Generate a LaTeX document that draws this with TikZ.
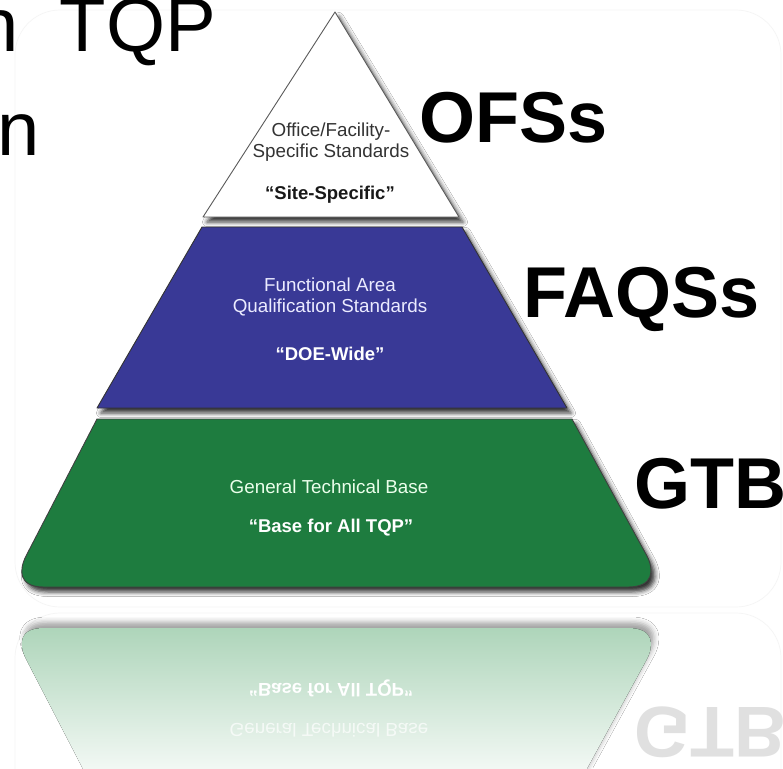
\documentclass[tikz,border=0pt]{standalone}
\usepackage{fontspec}
\setmainfont{Liberation Sans}
\usetikzlibrary{shadows.blur}
\definecolor{pyrblue}{RGB}{57,57,150}
\definecolor{pyrgreen}{RGB}{30,124,63}
\definecolor{refgreen}{RGB}{174,213,186}
\definecolor{edgegray}{RGB}{90,90,90}
\tikzset{
  lvl/.style={line width=0.9pt, line join=round,
    blur shadow={shadow xshift=4pt, shadow yshift=-5pt, shadow blur radius=4.5pt, shadow opacity=80}},
  smalltxt/.style={font=\fontsize{18.8}{22}\selectfont, inner sep=0pt},
  smallbold/.style={font=\fontsize{18.5}{22}\selectfont\bfseries, inner sep=0pt},
  biglabel/.style={font=\fontsize{72}{72}\selectfont\bfseries, anchor=base west, inner sep=0pt},
  titletxt/.style={font=\fontsize{76}{76}\selectfont, inner sep=0pt},
  frame/.style={draw=black!4, line width=0.7pt, rounded corners=45pt},
}
\begin{document}
\begin{tikzpicture}[x=1pt,y=-1pt]
\useasboundingbox (0,0) rectangle (783,768);
\clip (0,0) rectangle (783,768);
\fill[white] (0,0) rectangle (783,768);

% faint glass frames
\draw[frame] (15,10) rectangle (781,607);
\draw[frame] (15,613) rectangle (781,900);

% title fragments (top left)
\node[titletxt, anchor=base east] (title1) at (216.5,52) {n\hspace{20pt} TQP};
\node[titletxt, anchor=base west] (title2) at (-3,155) {n};

% reflection of the base level
\fill[blur shadow={shadow xshift=3pt, shadow yshift=6pt, shadow blur radius=5pt, shadow opacity=35},
      top color=refgreen, bottom color=white]
  (26,659) .. controls (19,645) and (18,628) .. (44,628) -- (628,628)
  .. controls (654,628) and (654,645) .. (647,659) -- (572,796) -- (97,796) -- cycle;
\node[smallbold, text=white, yscale=-1] (rbase) at (331,688) {“Base for All TQP”};
\node[smalltxt, text=white, opacity=0.7, yscale=-1] (rgen) at (329,730) {General Technical Base};
\node[biglabel, text=black!12, yscale=-1] (rgtb) at (634,707) {GTB};

% base level
\filldraw[lvl, fill=pyrgreen, draw=black!75] (97,419) -- (26,556)
  .. controls (19,570) and (18,587) .. (44,587) -- (628,587)
  .. controls (654,587) and (654,570) .. (647,556) -- (572,419) -- cycle;

% middle level
\filldraw[lvl, fill=pyrblue, draw=black!80] (202,227) -- (462,227) -- (567,408) -- (97,408) -- cycle;

% top level
\filldraw[lvl, fill=white, draw=edgegray] (335,12) -- (459,217) -- (203,217) -- cycle;

% texts inside levels
\node[smalltxt, text=black!80] (ofs1) at (331,132) {Office/Facility-};
\node[smalltxt, text=black!80] (ofs2) at (331,153) {Specific Standards};
\node[smallbold, text=black!90] (ofs3) at (330,195) {“Site-Specific”};

\node[smalltxt, text=white!92!blue] (faq1) at (330,285) {Functional Area};
\node[smalltxt, text=white!92!blue] (faq2) at (330,307) {Qualification Standards};
\node[smallbold, text=white] (faq3) at (330,354) {“DOE-Wide”};

\node[smalltxt, text=white!92!green] (gtb1) at (329,487) {General Technical Base};
\node[smallbold, text=white] (gtb2) at (331,528) {“Base for All TQP”};

% level labels
\node[biglabel] (lofs) at (419,142) {OFSs};
\node[biglabel] (lfaq) at (523,317) {FAQSs};
\node[biglabel] (lgtb) at (634,508) {GTB};
\end{tikzpicture}
\end{document}
